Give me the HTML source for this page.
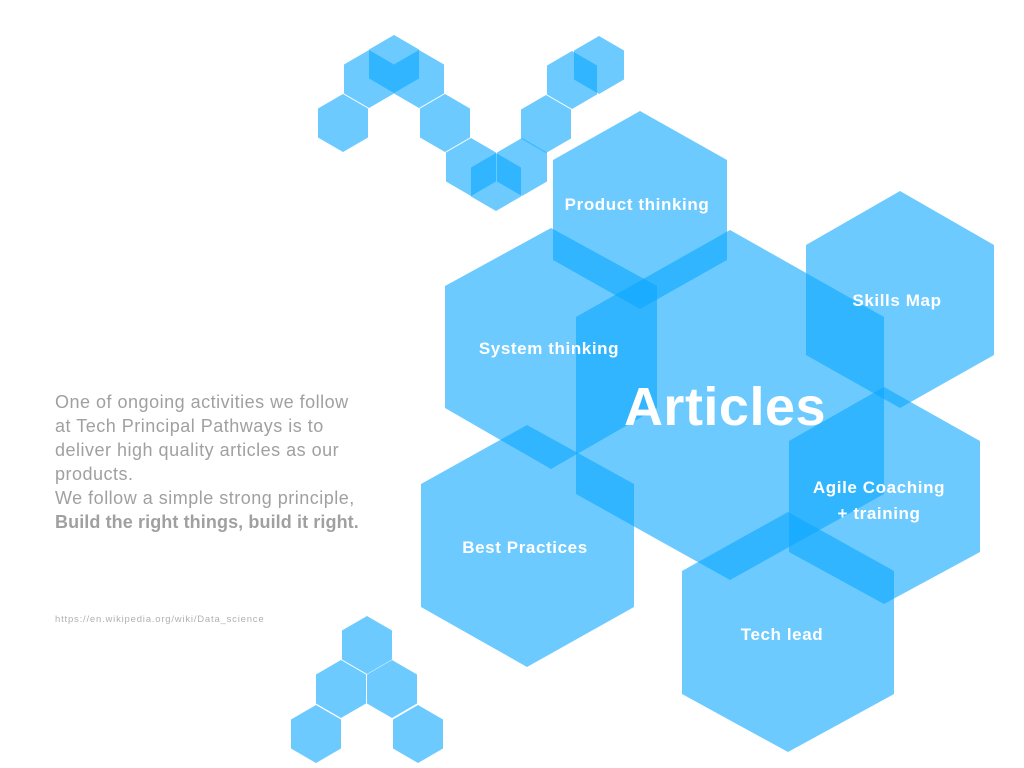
<!DOCTYPE html>
<html><head><meta charset="utf-8"><style>
html,body{margin:0;padding:0;background:#fff;}
svg{display:block}
</style></head><body>
<svg width="1024" height="768" viewBox="0 0 1024 768" xmlns="http://www.w3.org/2000/svg">
<defs>
<polygon id="h" points="0,-29 25,-14.5 25,14.5 0,29 -25,14.5 -25,-14.5"/>
</defs>
<g fill="#0aa6ff" fill-opacity="0.6">
<use href="#h" x="394" y="64"/>
<use href="#h" x="369" y="79"/>
<use href="#h" x="419" y="79"/>
<use href="#h" x="343" y="123"/>
<use href="#h" x="445" y="123"/>
<use href="#h" x="471" y="167"/>
<use href="#h" x="496" y="182"/>
<use href="#h" x="522" y="167"/>
<use href="#h" x="546" y="124"/>
<use href="#h" x="572" y="80"/>
<use href="#h" x="599" y="65"/>
<use href="#h" x="367" y="645"/>
<use href="#h" x="341" y="689"/>
<use href="#h" x="392" y="689"/>
<use href="#h" x="316" y="734"/>
<use href="#h" x="418" y="734"/>
<polygon points="640,111 727,160 727,260 640,309 553,260 553,160"/>
<polygon points="730,230 884,317 884,494 730,580 576,494 576,317"/>
<polygon points="551,228 657,286 657,408 551,469 445,408 445,286"/>
<polygon points="900,191 994,245 994,355 900,408 806,355 806,245"/>
<polygon points="884,387 980,441 980,552 884,604 789,552 789,441"/>
<polygon points="527,425 634,484 634,607 527,667 421,607 421,484"/>
<polygon points="788,512 894,571 894,694 788,752 682,694 682,571"/>
</g>
<g fill="#fff" font-family="Liberation Sans, sans-serif" font-weight="bold" font-size="17" text-anchor="middle" letter-spacing="0.6">
<text x="637" y="210">Product thinking</text>
<text x="549" y="354">System thinking</text>
<text x="897" y="306">Skills Map</text>
<text x="879" y="493">Agile Coaching</text>
<text x="879" y="519">+ training</text>
<text x="525" y="553">Best Practices</text>
<text x="782" y="640">Tech lead</text>
<text x="725" y="425" font-size="54" letter-spacing="0.5">Articles</text>
</g>
<g fill="#a0a0a0" font-family="Liberation Sans, sans-serif" font-size="18" letter-spacing="0.5">
<text x="55" y="408">One of ongoing activities we follow</text>
<text x="55" y="432">at Tech Principal Pathways is to</text>
<text x="55" y="456">deliver high quality articles as our</text>
<text x="55" y="480">products.</text>
<text x="55" y="504">We follow a simple strong principle,</text>
<text x="55" y="528" font-weight="bold" letter-spacing="0.1">Build the right things, build it right.</text>
<text x="55" y="622" font-size="9.5" letter-spacing="0.8" fill="#b0b0b0">https://en.wikipedia.org/wiki/Data_science</text>
</g>
</svg>
</body></html>
